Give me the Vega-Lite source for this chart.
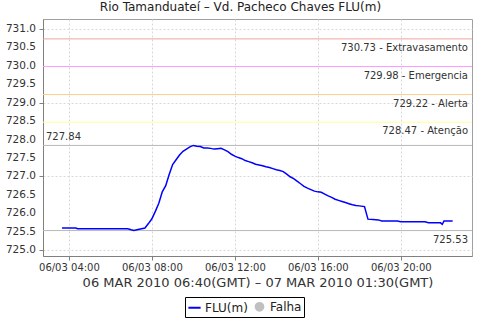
{
  "$schema": "https://vega.github.io/schema/vega-lite/v6.json",
  "width": 429,
  "height": 237,
  "autosize": {"type": "none"},
  "padding": {"left": 43, "top": 19, "right": 8, "bottom": 64},
  "background": "white",
  "title": {
    "text": "Rio Tamanduateí – Vd. Pacheco Chaves FLU(m)",
    "font": "DejaVu Sans",
    "fontSize": 12,
    "fontWeight": "normal",
    "color": "#222222",
    "anchor": "middle",
    "dx": -17,
    "offset": 5
  },
  "config": {
    "view": {"stroke": "#a0a0a0", "strokeWidth": 1},
    "axis": {
      "labelFont": "DejaVu Sans",
      "titleFont": "DejaVu Sans",
      "labelColor": "#333333",
      "titleColor": "#333333",
      "domainColor": "#808080",
      "tickColor": "#808080",
      "gridColor": "#d8d8d8",
      "gridDash": [2, 2],
      "gridWidth": 1
    }
  },
  "datasets": {
    "flu": [
      {"t": "2010-03-06T03:40:00Z", "v": 725.60, "s": "FLU(m)"},
      {"t": "2010-03-06T04:00:00Z", "v": 725.60, "s": "FLU(m)"},
      {"t": "2010-03-06T04:20:00Z", "v": 725.60, "s": "FLU(m)"},
      {"t": "2010-03-06T04:25:00Z", "v": 725.58, "s": "FLU(m)"},
      {"t": "2010-03-06T05:00:00Z", "v": 725.58, "s": "FLU(m)"},
      {"t": "2010-03-06T05:30:00Z", "v": 725.58, "s": "FLU(m)"},
      {"t": "2010-03-06T06:00:00Z", "v": 725.58, "s": "FLU(m)"},
      {"t": "2010-03-06T06:30:00Z", "v": 725.58, "s": "FLU(m)"},
      {"t": "2010-03-06T06:50:00Z", "v": 725.58, "s": "FLU(m)"},
      {"t": "2010-03-06T07:00:00Z", "v": 725.55, "s": "FLU(m)"},
      {"t": "2010-03-06T07:08:00Z", "v": 725.53, "s": "FLU(m)"},
      {"t": "2010-03-06T07:20:00Z", "v": 725.56, "s": "FLU(m)"},
      {"t": "2010-03-06T07:40:00Z", "v": 725.60, "s": "FLU(m)"},
      {"t": "2010-03-06T07:50:00Z", "v": 725.72, "s": "FLU(m)"},
      {"t": "2010-03-06T08:00:00Z", "v": 725.85, "s": "FLU(m)"},
      {"t": "2010-03-06T08:10:00Z", "v": 726.05, "s": "FLU(m)"},
      {"t": "2010-03-06T08:20:00Z", "v": 726.27, "s": "FLU(m)"},
      {"t": "2010-03-06T08:30:00Z", "v": 726.58, "s": "FLU(m)"},
      {"t": "2010-03-06T08:40:00Z", "v": 726.75, "s": "FLU(m)"},
      {"t": "2010-03-06T08:50:00Z", "v": 727.05, "s": "FLU(m)"},
      {"t": "2010-03-06T09:00:00Z", "v": 727.32, "s": "FLU(m)"},
      {"t": "2010-03-06T09:10:00Z", "v": 727.45, "s": "FLU(m)"},
      {"t": "2010-03-06T09:20:00Z", "v": 727.58, "s": "FLU(m)"},
      {"t": "2010-03-06T09:30:00Z", "v": 727.68, "s": "FLU(m)"},
      {"t": "2010-03-06T09:40:00Z", "v": 727.74, "s": "FLU(m)"},
      {"t": "2010-03-06T09:50:00Z", "v": 727.80, "s": "FLU(m)"},
      {"t": "2010-03-06T10:00:00Z", "v": 727.84, "s": "FLU(m)"},
      {"t": "2010-03-06T10:10:00Z", "v": 727.82, "s": "FLU(m)"},
      {"t": "2010-03-06T10:20:00Z", "v": 727.81, "s": "FLU(m)"},
      {"t": "2010-03-06T10:30:00Z", "v": 727.77, "s": "FLU(m)"},
      {"t": "2010-03-06T10:40:00Z", "v": 727.77, "s": "FLU(m)"},
      {"t": "2010-03-06T10:50:00Z", "v": 727.76, "s": "FLU(m)"},
      {"t": "2010-03-06T11:00:00Z", "v": 727.74, "s": "FLU(m)"},
      {"t": "2010-03-06T11:10:00Z", "v": 727.75, "s": "FLU(m)"},
      {"t": "2010-03-06T11:20:00Z", "v": 727.76, "s": "FLU(m)"},
      {"t": "2010-03-06T11:30:00Z", "v": 727.72, "s": "FLU(m)"},
      {"t": "2010-03-06T11:40:00Z", "v": 727.67, "s": "FLU(m)"},
      {"t": "2010-03-06T11:50:00Z", "v": 727.60, "s": "FLU(m)"},
      {"t": "2010-03-06T12:00:00Z", "v": 727.55, "s": "FLU(m)"},
      {"t": "2010-03-06T12:10:00Z", "v": 727.51, "s": "FLU(m)"},
      {"t": "2010-03-06T12:20:00Z", "v": 727.48, "s": "FLU(m)"},
      {"t": "2010-03-06T12:30:00Z", "v": 727.43, "s": "FLU(m)"},
      {"t": "2010-03-06T12:40:00Z", "v": 727.40, "s": "FLU(m)"},
      {"t": "2010-03-06T12:50:00Z", "v": 727.37, "s": "FLU(m)"},
      {"t": "2010-03-06T13:00:00Z", "v": 727.33, "s": "FLU(m)"},
      {"t": "2010-03-06T13:10:00Z", "v": 727.31, "s": "FLU(m)"},
      {"t": "2010-03-06T13:20:00Z", "v": 727.29, "s": "FLU(m)"},
      {"t": "2010-03-06T13:30:00Z", "v": 727.26, "s": "FLU(m)"},
      {"t": "2010-03-06T13:40:00Z", "v": 727.24, "s": "FLU(m)"},
      {"t": "2010-03-06T13:50:00Z", "v": 727.21, "s": "FLU(m)"},
      {"t": "2010-03-06T14:00:00Z", "v": 727.18, "s": "FLU(m)"},
      {"t": "2010-03-06T14:10:00Z", "v": 727.16, "s": "FLU(m)"},
      {"t": "2010-03-06T14:20:00Z", "v": 727.13, "s": "FLU(m)"},
      {"t": "2010-03-06T14:30:00Z", "v": 727.06, "s": "FLU(m)"},
      {"t": "2010-03-06T14:40:00Z", "v": 726.99, "s": "FLU(m)"},
      {"t": "2010-03-06T14:50:00Z", "v": 726.94, "s": "FLU(m)"},
      {"t": "2010-03-06T15:00:00Z", "v": 726.87, "s": "FLU(m)"},
      {"t": "2010-03-06T15:10:00Z", "v": 726.80, "s": "FLU(m)"},
      {"t": "2010-03-06T15:20:00Z", "v": 726.73, "s": "FLU(m)"},
      {"t": "2010-03-06T15:30:00Z", "v": 726.68, "s": "FLU(m)"},
      {"t": "2010-03-06T15:40:00Z", "v": 726.64, "s": "FLU(m)"},
      {"t": "2010-03-06T15:50:00Z", "v": 726.60, "s": "FLU(m)"},
      {"t": "2010-03-06T16:00:00Z", "v": 726.58, "s": "FLU(m)"},
      {"t": "2010-03-06T16:10:00Z", "v": 726.57, "s": "FLU(m)"},
      {"t": "2010-03-06T16:20:00Z", "v": 726.52, "s": "FLU(m)"},
      {"t": "2010-03-06T16:30:00Z", "v": 726.47, "s": "FLU(m)"},
      {"t": "2010-03-06T16:40:00Z", "v": 726.43, "s": "FLU(m)"},
      {"t": "2010-03-06T16:50:00Z", "v": 726.38, "s": "FLU(m)"},
      {"t": "2010-03-06T17:00:00Z", "v": 726.35, "s": "FLU(m)"},
      {"t": "2010-03-06T17:10:00Z", "v": 726.32, "s": "FLU(m)"},
      {"t": "2010-03-06T17:20:00Z", "v": 726.29, "s": "FLU(m)"},
      {"t": "2010-03-06T17:30:00Z", "v": 726.26, "s": "FLU(m)"},
      {"t": "2010-03-06T17:40:00Z", "v": 726.23, "s": "FLU(m)"},
      {"t": "2010-03-06T17:50:00Z", "v": 726.21, "s": "FLU(m)"},
      {"t": "2010-03-06T18:00:00Z", "v": 726.20, "s": "FLU(m)"},
      {"t": "2010-03-06T18:15:00Z", "v": 726.18, "s": "FLU(m)"},
      {"t": "2010-03-06T18:25:00Z", "v": 725.84, "s": "FLU(m)"},
      {"t": "2010-03-06T18:40:00Z", "v": 725.83, "s": "FLU(m)"},
      {"t": "2010-03-06T18:55:00Z", "v": 725.82, "s": "FLU(m)"},
      {"t": "2010-03-06T19:05:00Z", "v": 725.79, "s": "FLU(m)"},
      {"t": "2010-03-06T19:30:00Z", "v": 725.79, "s": "FLU(m)"},
      {"t": "2010-03-06T19:50:00Z", "v": 725.79, "s": "FLU(m)"},
      {"t": "2010-03-06T20:00:00Z", "v": 725.77, "s": "FLU(m)"},
      {"t": "2010-03-06T20:30:00Z", "v": 725.77, "s": "FLU(m)"},
      {"t": "2010-03-06T21:10:00Z", "v": 725.77, "s": "FLU(m)"},
      {"t": "2010-03-06T21:20:00Z", "v": 725.74, "s": "FLU(m)"},
      {"t": "2010-03-06T21:55:00Z", "v": 725.74, "s": "FLU(m)"},
      {"t": "2010-03-06T22:00:00Z", "v": 725.70, "s": "FLU(m)"},
      {"t": "2010-03-06T22:05:00Z", "v": 725.79, "s": "FLU(m)"},
      {"t": "2010-03-06T22:30:00Z", "v": 725.79, "s": "FLU(m)"}
    ],
    "limits": [
      {"level": 730.73, "label": "730.73 - Extravasamento", "c": "#f4a0a0"},
      {"level": 729.98, "label": "729.98 - Emergencia", "c": "#ff99ff"},
      {"level": 729.22, "label": "729.22 - Alerta", "c": "#ffcc88"},
      {"level": 728.47, "label": "728.47 - Atenção", "c": "#ffff99"}
    ],
    "maxv": [{"level": 727.84, "label": "727.84"}],
    "minv": [{"level": 725.53, "label": "725.53"}],
    "yticks": [
      {"y": 725.0, "label": "725.0"},
      {"y": 725.5, "label": "725.5"},
      {"y": 726.0, "label": "726.0"},
      {"y": 726.5, "label": "726.5"},
      {"y": 727.0, "label": "727.0"},
      {"y": 727.5, "label": "727.5"},
      {"y": 728.0, "label": "728.0"},
      {"y": 728.5, "label": "728.5"},
      {"y": 729.0, "label": "729.0"},
      {"y": 729.5, "label": "729.5"},
      {"y": 730.0, "label": "730.0"},
      {"y": 730.5, "label": "730.5"},
      {"y": 731.0, "label": "731.0"}
    ]
  },
  "layer": [
    {
      "data": {"name": "limits"},
      "mark": {"type": "rule", "strokeWidth": 1},
      "encoding": {
        "y": {
          "field": "level",
          "type": "quantitative",
          "scale": {"domain": [724.84, 731.27], "nice": false, "zero": false},
          "axis": {
            "title": null,
            "values": [725, 725.5, 726, 726.5, 727, 727.5, 728, 728.5, 729, 729.5, 730, 730.5, 731],
            "labels": false,
            "tickSize": 4,
            "grid": true
          }
        },
        "stroke": {"field": "c", "type": "nominal", "scale": null, "legend": null}
      }
    },
    {
      "data": {"name": "yticks"},
      "mark": {"type": "text", "align": "right", "baseline": "middle", "dx": -7, "font": "DejaVu Sans", "fontSize": 10.5, "fill": "#333333"},
      "encoding": {
        "y": {"field": "y", "type": "quantitative"},
        "x": {"datum": 1267843500000, "type": "temporal"},
        "text": {"field": "label"}
      }
    },
    {
      "data": {"name": "limits"},
      "mark": {"type": "text", "align": "right", "baseline": "top", "dx": -4, "dy": 4, "font": "DejaVu Sans", "fontSize": 10, "fill": "#333333"},
      "encoding": {
        "y": {"field": "level", "type": "quantitative"},
        "x": {"datum": 1267917960000, "type": "temporal"},
        "text": {"field": "label"}
      }
    },
    {
      "data": {"name": "maxv"},
      "mark": {"type": "rule", "strokeWidth": 1, "stroke": "#b8b8b8"},
      "encoding": {"y": {"field": "level", "type": "quantitative"}}
    },
    {
      "data": {"name": "minv"},
      "mark": {"type": "rule", "strokeWidth": 1, "stroke": "#b8b8b8"},
      "encoding": {"y": {"field": "level", "type": "quantitative"}}
    },
    {
      "data": {"name": "maxv"},
      "mark": {"type": "text", "align": "left", "baseline": "bottom", "dx": 3, "dy": -3, "font": "DejaVu Sans", "fontSize": 10, "fill": "#333333"},
      "encoding": {
        "y": {"field": "level", "type": "quantitative"},
        "x": {"datum": 1267843500000, "type": "temporal"},
        "text": {"field": "label"}
      }
    },
    {
      "data": {"name": "minv"},
      "mark": {"type": "text", "align": "right", "baseline": "top", "dx": -4, "dy": 4, "font": "DejaVu Sans", "fontSize": 10, "fill": "#333333"},
      "encoding": {
        "y": {"field": "level", "type": "quantitative"},
        "x": {"datum": 1267917960000, "type": "temporal"},
        "text": {"field": "label"}
      }
    },
    {
      "data": {"name": "flu"},
      "mark": {"type": "line", "strokeWidth": 1.5},
      "encoding": {
        "x": {
          "field": "t",
          "type": "temporal",
          "scale": {
            "type": "utc",
            "domain": [1267843500000, 1267917960000],
            "nice": false
          },
          "axis": {
            "title": "06 MAR 2010 06:40(GMT) – 07 MAR 2010 01:30(GMT)",
            "titleFontSize": 13,
            "titleFontWeight": "normal",
            "titlePadding": 4,
            "format": "%d/%m %H:%M",
            "labelFontSize": 10,
            "values": [1267848000000, 1267862400000, 1267876800000, 1267891200000, 1267905600000],
            "tickSize": 4,
            "labelPadding": 2,
            "grid": true
          }
        },
        "y": {
          "field": "v",
          "type": "quantitative",
          "scale": {"domain": [724.84, 731.27], "nice": false, "zero": false},
          "axis": {
            "title": null,
            "values": [725, 725.5, 726, 726.5, 727, 727.5, 728, 728.5, 729, 729.5, 730, 730.5, 731],
            "labels": false,
            "tickSize": 4,
            "grid": true
          }
        },
        "color": {
          "field": "s",
          "type": "nominal",
          "scale": {"domain": ["FLU(m)", "Falha"], "range": ["#0000ff", "#c0c0c0"]},
          "legend": {
            "title": null,
            "orient": "none",
            "direction": "horizontal",
            "legendX": 142,
            "legendY": 278,
            "strokeColor": "#000000",
            "padding": 2,
            "labelFont": "DejaVu Sans",
            "labelFontSize": 12,
            "labelColor": "#222222",
            "columnPadding": 3,
            "labelOffset": 3,
            "symbolSize": 150,
            "symbolType": "stroke",
            "symbolStrokeWidth": 2,
            "encode": {
              "symbols": {
                "update": {
                  "shape": {"signal": "datum.value === 'Falha' ? 'circle' : 'stroke'"},
                  "fill": {"signal": "datum.value === 'Falha' ? '#c0c0c0' : 'transparent'"},
                  "stroke": {"signal": "datum.value === 'Falha' ? 'transparent' : '#0000ff'"},
                  "size": {"signal": "datum.value === 'Falha' ? 60 : 150"}
                }
              }
            }
          }
        }
      }
    }
  ]
}
